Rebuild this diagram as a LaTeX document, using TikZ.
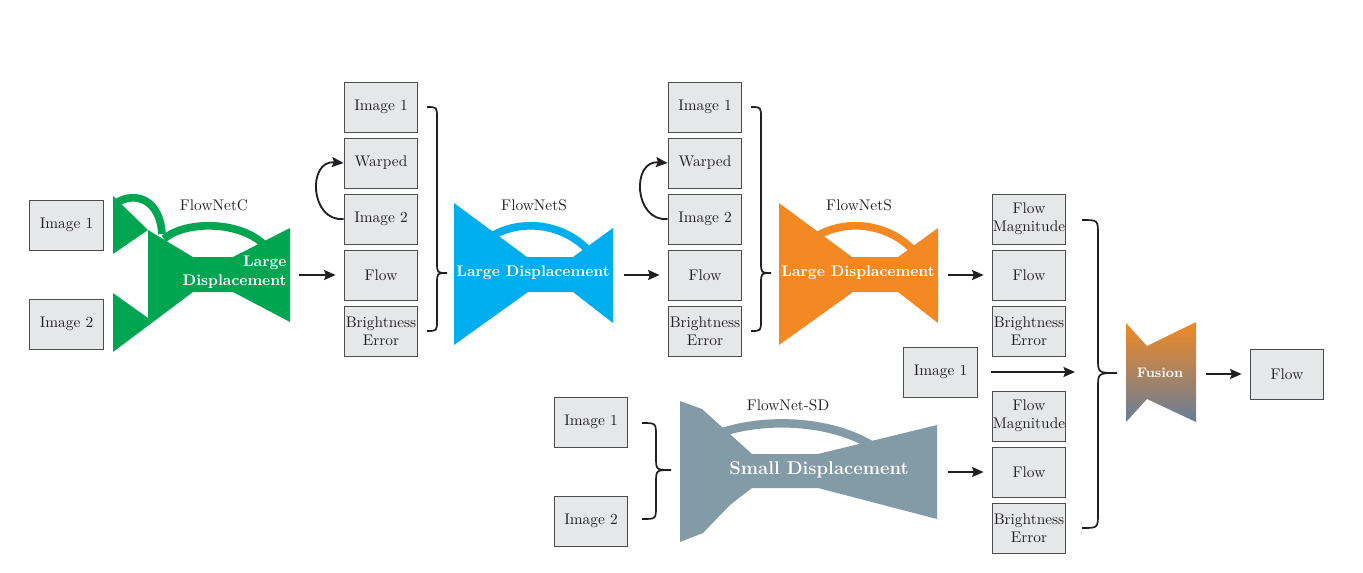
\documentclass[tikz,border=0pt]{standalone}
\usetikzlibrary{arrows.meta,calc}
\definecolor{boxfill}{HTML}{E6E7E8}
\definecolor{boxline}{HTML}{4D4D4F}
\definecolor{ink}{HTML}{231F20}
\definecolor{fgreen}{HTML}{00A551}
\definecolor{fblue}{HTML}{00ADEE}
\definecolor{forange}{HTML}{F48823}
\definecolor{fgray}{HTML}{839AA7}
\definecolor{fusetop}{HTML}{F08A25}
\definecolor{fusebot}{HTML}{687D99}
\newcommand\cbrace[7]{%
 \draw[brace] (#1,#4) .. controls (#2,#4) .. (#2,#4+#7) -- (#2,#5-#7) .. controls (#2,#5) .. (#3,#5) .. controls (#2,#5) .. (#2,#5+#7) -- (#2,#6-#7) .. controls (#2,#6) .. (#1,#6);}
\begin{document}
\begin{tikzpicture}[x=0.65pt,y=-0.65pt,
 box/.style={draw=boxline,fill=boxfill,line width=0.6pt,minimum width=48pt,minimum height=32.5pt,inner sep=0pt,align=center,text=ink},
 arr/.style={draw=ink,line width=1.2pt,-{Stealth[length=7.5pt,width=6.5pt,inset=1.2pt]}},
 brace/.style={draw=ink,line width=1.1pt},
 netlabel/.style={text=ink},
 inlabel/.style={text=white,font=\bfseries},
]
\useasboundingbox (0,0) rectangle (1363,572);

% ---------- boxes ----------
\node[box] (a1) at (66.5,225) {Image 1};
\node[box] (a2) at (66.5,324) {Image 2};

\node[box] (b1) at (381,107) {Image 1};
\node[box] (b2) at (381,163) {Warped};
\node[box] (b3) at (381,219) {Image 2};
\node[box] (b4) at (381,275) {Flow};
\node[box] (b5) at (381,331) {Brightness\\Error};

\node[box] (c1) at (705,107) {Image 1};
\node[box] (c2) at (705,163) {Warped};
\node[box] (c3) at (705,219) {Image 2};
\node[box] (c4) at (705,275) {Flow};
\node[box] (c5) at (705,331) {Brightness\\Error};

\node[box] (d1) at (1029,219) {Flow\\Magnitude};
\node[box] (d2) at (1029,275) {Flow};
\node[box] (d3) at (1029,331) {Brightness\\Error};
\node[box] (d4) at (1029,416) {Flow\\Magnitude};
\node[box] (d5) at (1029,472) {Flow};
\node[box] (d6) at (1029,528) {Brightness\\Error};

\node[box] (m1) at (940.5,372) {Image 1};
\node[box] (s1) at (591,422) {Image 1};
\node[box] (s2) at (591,521) {Image 2};
\node[box] (out) at (1287,374) {Flow};

% ---------- FlowNetC (green) ----------
\fill[fgreen] (113,196) -- (148,230) -- (113,254) -- cycle;
\fill[fgreen] (148,230) -- (193,257) -- (233,257) -- (290,228) -- (290,322) -- (233,292) -- (193,292) -- (113,352) -- (113,293) -- (148,318) -- cycle;
\draw[fgreen,line width=5pt] (116,203) .. controls (135,191) and (160,199) .. (162,234);
\draw[fgreen,line width=5pt] (164,239) .. controls (185,220) and (245,220) .. (268,249);
\node[netlabel] (lC) at (214,205) {FlowNetC};
\node[inlabel,align=right,anchor=east] (tC) at (292,272) {Large\\Displacement};
\coordinate (gC) at (299,275);

% ---------- FlowNetS (blue) ----------
\fill[fblue] (454,203) -- (527,257) -- (573,257) -- (613,228) -- (613,323) -- (573,292) -- (528,292) -- (454,345) -- cycle;
\draw[fblue,line width=5pt] (489,238) .. controls (515,220) and (560,220) .. (589,251);
\node[netlabel] (lS1) at (534,205) {FlowNetS};
\node[inlabel] (tS1) at (533,273) {Large Displacement};
\coordinate (gS1) at (624,275);

% ---------- FlowNetS (orange) ----------
\begin{scope}[xshift=325*0.65pt]
\fill[forange] (454,203) -- (527,257) -- (573,257) -- (613,228) -- (613,323) -- (573,292) -- (528,292) -- (454,345) -- cycle;
\draw[forange,line width=5pt] (489,238) .. controls (515,220) and (560,220) .. (589,251);
\end{scope}
\node[netlabel] (lS2) at (859,205) {FlowNetS};
\node[inlabel] (tS2) at (858,273) {Large Displacement};
\coordinate (gS2) at (948,275);

% ---------- FlowNet-SD (gray) ----------
\fill[fgray] (680,401) -- (702,409) -- (752,454) -- (818,454) -- (937,425) -- (937,519) -- (818,488) -- (752,488) -- (730,505) -- (703,533) -- (680,542) -- cycle;
\draw[fgray,line width=5.5pt] (717,434) .. controls (760,418) and (830,418) .. (876,448);
\node[netlabel] (lSD) at (788,405) {FlowNet-SD};
\node[inlabel,font=\large\bfseries] (tSD) at (819,470) {Small Displacement};
\coordinate (gSD) at (948,472);

% ---------- Fusion ----------
\shade[top color=fusetop,bottom color=fusebot] (1126,323) -- (1147,346) -- (1196,322) -- (1196,422) -- (1147,399) -- (1126,422) -- cycle;
\node[inlabel,font=\small\bfseries] (tF) at (1160,373) {Fusion};
\coordinate (fin) at (1075,372);
\coordinate (fout) at (1206,374);

% ---------- arrows ----------
\draw[arr] (gC) -- ($(gC -| b4.west)+(-8,0)$);
\draw[arr] (gS1) -- ($(gS1 -| c4.west)+(-8,0)$);
\draw[arr] (gS2) -- ($(gS2 -| d2.west)+(-8,0)$);
\draw[arr] (gSD) -- ($(gSD -| d5.west)+(-8,0)$);
\draw[arr] ($(m1.east)+(13,0)$) -- (fin);
\draw[arr] (fout) -- ($(fout -| out.west)+(-8,0)$);

\draw[arr] (b3.west) .. controls (310,222) and (307,160) .. (b2.west);
\draw[arr] (c3.west) .. controls (634,222) and (631,160) .. (c2.west);

% ---------- braces ----------
\cbrace{427}{437}{447}{107}{273}{331}{11}
\cbrace{751}{761}{771}{107}{273}{331}{11}
\cbrace{642}{656}{671}{423}{470}{519}{13}
\cbrace{1082}{1098}{1117}{220}{373}{528}{15}
\end{tikzpicture}
\end{document}
